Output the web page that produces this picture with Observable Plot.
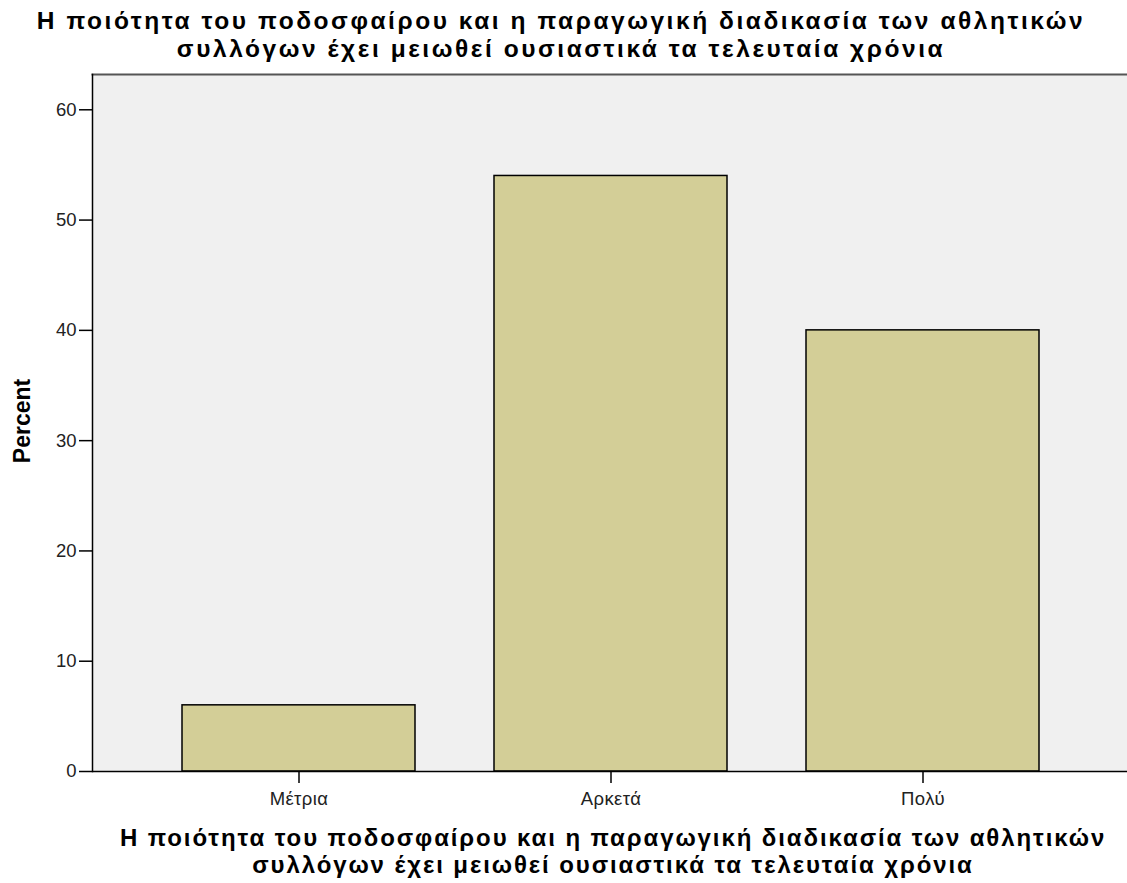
<!DOCTYPE html>
<html>
<head>
<meta charset="utf-8">
<script src="https://cdn.jsdelivr.net/npm/d3@7"></script>
<script src="https://cdn.jsdelivr.net/npm/@observablehq/plot@0.6"></script>
<style>
  html, body { margin: 0; padding: 0; background: #fff; }
  #chart svg { display: block; }
</style>
</head>
<body>
<div id="chart"></div>
<script>
const categories = ["Μέτρια", "Αρκετά", "Πολύ"];
const percents = [6, 54, 40];
const yTicks = [0, 10, 20, 30, 40, 50, 60];
const titleText = "Η ποιότητα του ποδοσφαίρου και η παραγωγική διαδικασία των αθλητικών\nσυλλόγων έχει μειωθεί ουσιαστικά τα τελευταία χρόνια";
const yLabel = "Percent";

const data = categories.map((c, i) => ({category: c, percent: percents[i]}));

const font = "'Liberation Sans', Arial, Helvetica, sans-serif";

const chart = Plot.plot({
  width: 1127,
  height: 883,
  marginTop: 74,
  marginBottom: 112,
  marginLeft: 92,
  marginRight: 0,
  style: {fontFamily: font, color: "#000", background: "#fff"},
  x: {domain: categories, padding: 0.253, insetLeft: 11, insetRight: 9},
  y: {domain: [0, 63.2]},
  marks: [
    Plot.frame({fill: "#f0f0f0", stroke: null}),
    Plot.frame({anchor: "top", stroke: "#555", strokeWidth: 2}),
    Plot.barY(data, {x: "category", y: "percent", fill: "#d3ce97", stroke: "#000", strokeWidth: 1.5}),
    Plot.frame({anchor: "left", stroke: "#000", strokeWidth: 1.5}),
    Plot.ruleY([0], {stroke: "#000", strokeWidth: 1.5}),
    Plot.axisY({ticks: yTicks, tickSize: 13, tickPadding: 3, fontSize: 18.5, label: null, stroke: "#000", strokeWidth: 1.5, fill: "#222"}),
    Plot.axisX({tickSize: 12, tickPadding: 8, fontSize: 18.5, label: null, stroke: "#000", strokeWidth: 1.5, fill: "#222"}),
    Plot.text([titleText], {ariaLabel: () => "chart-title", frameAnchor: "top", lineAnchor: "bottom", dy: -18, dx: -49, fontSize: 24.5, fontWeight: "bold", lineHeight: 1.125, fill: "#000"}),
    Plot.text([titleText], {ariaLabel: () => "x-title", frameAnchor: "bottom", lineAnchor: "bottom", dy: 101, dx: 3, fontSize: 24, fontWeight: "bold", lineHeight: 1.125, fill: "#000"}),
    Plot.text([yLabel], {frameAnchor: "left", textAnchor: "middle", rotate: -90, dx: -70, dy: -2, fontSize: 23, fontWeight: "bold", fill: "#000"})
  ]
});
// letter spacing to match the wide rendering of the reference titles
d3.select(chart).selectAll('[aria-label="chart-title"]').style("letter-spacing", "2.55px");
d3.select(chart).selectAll('[aria-label="x-title"]').style("letter-spacing", "1.9px");
d3.select(chart).selectAll('g[aria-label="x-axis tick label"] text').style("letter-spacing", "0.4px");
document.getElementById("chart").appendChild(chart);
</script>
</body>
</html>
